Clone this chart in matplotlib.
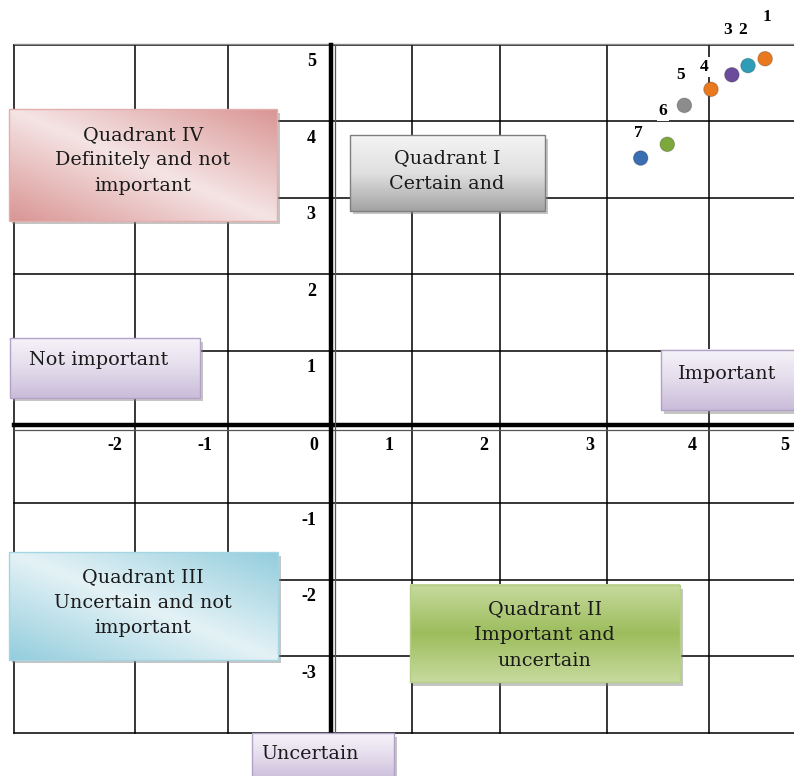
import matplotlib
matplotlib.use("Agg")
import matplotlib.pyplot as plt
import numpy as np
from matplotlib.colors import LinearSegmentedColormap
from matplotlib.patches import Rectangle

# factor scores: importance (x) and certainty (y) of each item
item_ids = ["1", "2", "3", "4", "5", "6", "7"]
importance = [4.57, 4.39, 4.22, 4.00, 3.72, 3.54, 3.26]
certainty = [4.82, 4.73, 4.61, 4.42, 4.21, 3.70, 3.52]
item_colors = ["#E8791F", "#2E9EB8", "#6B4C9A", "#E8791F", "#8C8C8C", "#7DA83C", "#3B6DB3"]

x_ticks = [-2, -1, 0, 1, 2, 3, 4, 5]
y_ticks = [5, 4, 3, 2, 1, -1, -2, -3]

# table-like grid (column edges are uneven, rows are one unit tall)
COL_EDGES = [-3.337, -2.063, -1.084, 0.853, 1.779, 2.905, 3.979]
ROW_EDGES = [5, 4, 3, 2, 1, -1, -2, -3, -4]
X_LEFT, X_RIGHT = -3.337, 5.0
Y_TOP, Y_BOTTOM = 5.0, -4.0
# right edge of the cell holding each x tick label
X_LABEL_RIGHT = [-2.20, -1.25, -0.13, 0.66, 1.66, 2.77, 3.85, 4.82]
LABEL_OFFSETS = [(1, 30), (-4, 26), (-3, 32), (-5, 16), (-3, 22), (-3, 24), (-2, 18)]

SERIF = "DejaVu Serif"
NUM_FONT = "Liberation Serif"
BOX_FS = 13.8
TXT = "#1a1a1a"


def gradient_box(ax, x0, y0, x1, y1, colors, edge, kind="vertical", z=5):
    """Filled box with a colour gradient, thin outline and a soft drop shadow.
    (x0, y0) is the top-left corner, (x1, y1) the bottom-right one."""
    sh = Rectangle((x0 + 0.035, y1 - 0.045), x1 - x0, y0 - y1,
                   facecolor="#7f7f7f", alpha=0.45, lw=0, zorder=z - 0.5)
    ax.add_patch(sh)
    cmap = LinearSegmentedColormap.from_list("g", colors)
    n = 200
    if kind == "vertical":
        grad = np.linspace(0, 1, n)[:, None] * np.ones((1, n))
    else:
        # light band from top-left to bottom-right, darker in the other corners
        u, v = np.meshgrid(np.linspace(0, 1, n), np.linspace(0, 1, n))
        d = (u + (1.0 - v)) / 2.0
        grad = np.abs(d - 0.5) * 2.0
    ax.imshow(grad, cmap=cmap, extent=(x0, x1, y1, y0), origin="upper",
              aspect="auto", interpolation="bilinear", zorder=z)
    ax.add_patch(Rectangle((x0, y1), x1 - x0, y0 - y1, fill=False,
                           edgecolor=edge, lw=1.0, zorder=z + 0.1))


fig = plt.figure(figsize=(7.94, 7.76), dpi=100)
ax = fig.add_axes([0, 0, 1, 1])
ax.set_xlim(-3.484, 4.874)
ax.set_ylim(-4.568, 5.589)
ax.axis("off")

# grid lines
for y in ROW_EDGES:
    ax.plot([X_LEFT, X_RIGHT], [y, y], color="black", lw=1.1, zorder=1)
for x in COL_EDGES:
    ax.plot([x, x], [Y_BOTTOM, Y_TOP], color="black", lw=1.1, zorder=1)
ax.plot([X_LEFT, X_RIGHT], [Y_TOP + 0.01, Y_TOP + 0.01], color="#888888", lw=1.0, zorder=1)

# main axes: heavy rule with a thin companion line
ax.plot([X_LEFT, X_RIGHT], [0.02, 0.02], color="black", lw=3.2, zorder=2)
ax.plot([X_LEFT, X_RIGHT], [-0.04, -0.04], color="#555555", lw=0.9, zorder=2)
ax.plot([-0.005, -0.005], [Y_BOTTOM, Y_TOP], color="black", lw=3.2, zorder=2)
ax.plot([0.045, 0.045], [Y_BOTTOM, Y_TOP], color="#555555", lw=0.9, zorder=2)

# axis numbers written in the table cells
for v, xr in zip(x_ticks, X_LABEL_RIGHT):
    ax.text(xr, -0.13, str(v), ha="right", va="top", fontsize=13,
            fontweight="bold", family=NUM_FONT, zorder=3)
for v in y_ticks:
    ax.text(-0.16, v - 0.11, str(v), ha="right", va="top", fontsize=13,
            fontweight="bold", family=NUM_FONT, zorder=3)

# quadrant captions
gradient_box(ax, -3.39, 4.16, -0.57, 2.70, ["#F5E4E4", "#D99594"], "#E2AFAE", kind="diag")
ax.text(-1.98, 3.49, "Quadrant IV\nDefinitely and not\nimportant", ha="center", va="center",
        fontsize=BOX_FS, family=SERIF, linespacing=1.55, color=TXT, zorder=7)

gradient_box(ax, 0.20, 3.82, 2.25, 2.83, ["#F4F4F4", "#E0E0E0", "#A3A3A3"], "#7F7F7F")
ax.text(1.22, 3.35, "Quadrant I\nCertain and", ha="center", va="center",
        fontsize=BOX_FS, family=SERIF, linespacing=1.55, color=TXT, zorder=7)

gradient_box(ax, -3.39, -1.64, -0.56, -3.05, ["#E4F2F6", "#93CDDD"], "#A5D5E2", kind="diag")
ax.text(-1.98, -2.30, "Quadrant III\nUncertain and not\nimportant", ha="center", va="center",
        fontsize=BOX_FS, family=SERIF, linespacing=1.55, color=TXT, zorder=7)

gradient_box(ax, 0.83, -2.07, 3.67, -3.34, ["#C6DA9E", "#9DBD5C", "#C6DA9E"], "#B5CF86")
ax.text(2.25, -2.72, "Quadrant II\nImportant and\nuncertain", ha="center", va="center",
        fontsize=BOX_FS, family=SERIF, linespacing=1.55, color=TXT, zorder=7)

lavender = ["#F6F3F9", "#E4DCEC", "#C9BCD9"]
gradient_box(ax, -3.38, 1.16, -1.38, 0.38, lavender, "#B3A2C7")
ax.text(-2.45, 0.88, "Not important", ha="center", va="center",
        fontsize=BOX_FS, family=SERIF, color=TXT, zorder=7)

gradient_box(ax, 3.47, 1.01, 4.94, 0.22, lavender, "#B3A2C7")
ax.text(4.17, 0.69, "Important", ha="center", va="center",
        fontsize=BOX_FS, family=SERIF, color=TXT, zorder=7)

gradient_box(ax, -0.83, -4.01, 0.66, -4.62, lavender, "#B3A2C7")
ax.text(-0.22, -4.28, "Uncertain", ha="center", va="center",
        fontsize=BOX_FS, family=SERIF, color=TXT, zorder=7)

# items
ax.scatter(importance, certainty, s=110, c=item_colors, edgecolors="#00000033",
           linewidths=0.8, zorder=9)
for lbl, x, y, off in zip(item_ids, importance, certainty, LABEL_OFFSETS):
    ax.annotate(lbl, (x, y), xytext=off, textcoords="offset points", ha="center",
                va="center", fontsize=12.5, fontweight="bold", family=NUM_FONT,
                bbox=dict(boxstyle="square,pad=0.1", fc="white", ec="none"), zorder=10)

fig.savefig("out.png", dpi=100)
